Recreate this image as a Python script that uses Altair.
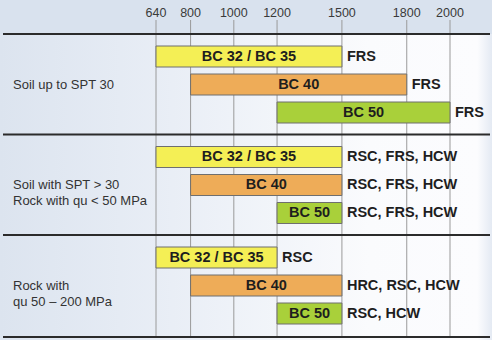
import altair as alt
import pandas as pd

# ---- data ----
ticks = [640, 800, 1000, 1200, 1500, 1800, 2000]
groups = ["Soil up to SPT 30", "Soil with SPT > 30\nRock with qu < 50 MPa", "Rock with\nqu 50 – 200 MPa"]
bar_names = ["BC 32 / BC 35", "BC 40", "BC 50"]
bar_starts = [[640, 800, 1200], [640, 800, 1200], [640, 800, 1200]]
bar_ends = [[1500, 1800, 2000], [1500, 1500, 1500], [1200, 1500, 1500]]
bar_notes = [["FRS", "FRS", "FRS"],
             ["RSC, FRS, HCW", "RSC, FRS, HCW", "RSC, FRS, HCW"],
             ["RSC", "HRC, RSC, HCW", "RSC, HCW"]]
bar_colors = ["#f4ef55", "#eeac58", "#a9d03a"]

# ---- layout ----
W, H = 492, 340
FIRST_ROW = 56.5
GROUP_STEP = 100.5
ROW_STEP = 28
BAR_H = 21
SEP_TOP = 34

rows = []
for g in range(3):
    for r in range(3):
        c = FIRST_ROW + g * GROUP_STEP + r * ROW_STEP
        rows.append(dict(name=bar_names[r], start=bar_starts[g][r], end=bar_ends[g][r],
                         mid=(bar_starts[g][r] + bar_ends[g][r]) / 2,
                         note=bar_notes[g][r], color=bar_colors[r],
                         yc=c, y0=c - BAR_H / 2, y1=c + BAR_H / 2))
bars = pd.DataFrame(rows)

glabels = pd.DataFrame(dict(label=[g.split("\n") for g in groups],
                            yc=[FIRST_ROW + g * GROUP_STEP + ROW_STEP for g in range(3)]))
seps = pd.DataFrame(dict(y=[SEP_TOP + g * GROUP_STEP for g in range(3)] + [337]))
tk = pd.DataFrame(dict(v=ticks, lab=[str(t) for t in ticks]))

px0, pxscale = 156, (450 - 156) / (2000 - 640)
xscale = alt.Scale(domain=[640 - px0 / pxscale, 640 + (W - px0) / pxscale], range=[0, W], nice=False, zero=False)
yscale = alt.Scale(domain=[0, H], range=[0, H], nice=False, zero=False)
X = lambda f: alt.X(f, type="quantitative", scale=xscale, axis=None)
Y = lambda f: alt.Y(f, type="quantitative", scale=yscale, axis=None)

bg = alt.Chart(pd.DataFrame({"a": [0]})).mark_rect(
    color=alt.Gradient(gradient="linear", x1=0, x2=1, y1=0, y2=0,
                       stops=[alt.GradientStop(color="#dce4ef", offset=0),
                              alt.GradientStop(color="#e9eef6", offset=0.35),
                              alt.GradientStop(color="#fafbfd", offset=0.75),
                              alt.GradientStop(color="#fcfcfe", offset=0.97),
                              alt.GradientStop(color="#e4eaf3", offset=1)])
).encode(x=alt.value(0), x2=alt.value(W), y=alt.value(SEP_TOP), y2=alt.value(H))

grid = alt.Chart(tk).mark_rule(color="#9a9a9a", strokeWidth=1).encode(
    x=X("v"), y=alt.value(20), y2=alt.value(337))

ticktext = alt.Chart(tk).mark_text(fontSize=12.5, font="Liberation Sans", color="#3a3a3a",
                                   align="center", baseline="middle").encode(
    x=X("v"), y=alt.value(13), text="lab:N")

seprules = alt.Chart(seps).mark_rule(color="#2b2b2b", strokeWidth=2).encode(
    y=Y("y"), x=alt.value(3), x2=alt.value(490))

barmark = alt.Chart(bars).mark_rect(stroke="#6f6f6f", strokeWidth=1).encode(
    x=X("start"), x2="end", y=Y("y0"), y2="y1",
    color=alt.Color("color:N", scale=None))

bartext = alt.Chart(bars).mark_text(fontSize=14.5, fontWeight="bold", font="Liberation Sans",
                                    color="#1e1e1e", baseline="middle").encode(
    x=X("mid"), y=Y("yc"), text="name:N")

notetext = alt.Chart(bars).mark_text(fontSize=14.5, fontWeight="bold", font="Liberation Sans",
                                     color="#1e1e1e", align="left", baseline="middle", dx=5).encode(
    x=X("end"), y=Y("yc"), text="note:N")

grouptext = alt.Chart(glabels).mark_text(fontSize=13, font="Liberation Sans", color="#333333",
                                         align="left", baseline="middle", lineHeight=16).encode(
    x=alt.value(13), y=Y("yc"), text="label")

chart = alt.layer(bg, grid, ticktext, seprules, barmark, bartext, notetext, grouptext).properties(
    width=W, height=H, padding=0, autosize=alt.AutoSizeParams(type="none"),
    background="#d9e2ee"
).configure_view(stroke=None)

chart.save("out.html", embed_options={"renderer": "svg", "actions": False})
